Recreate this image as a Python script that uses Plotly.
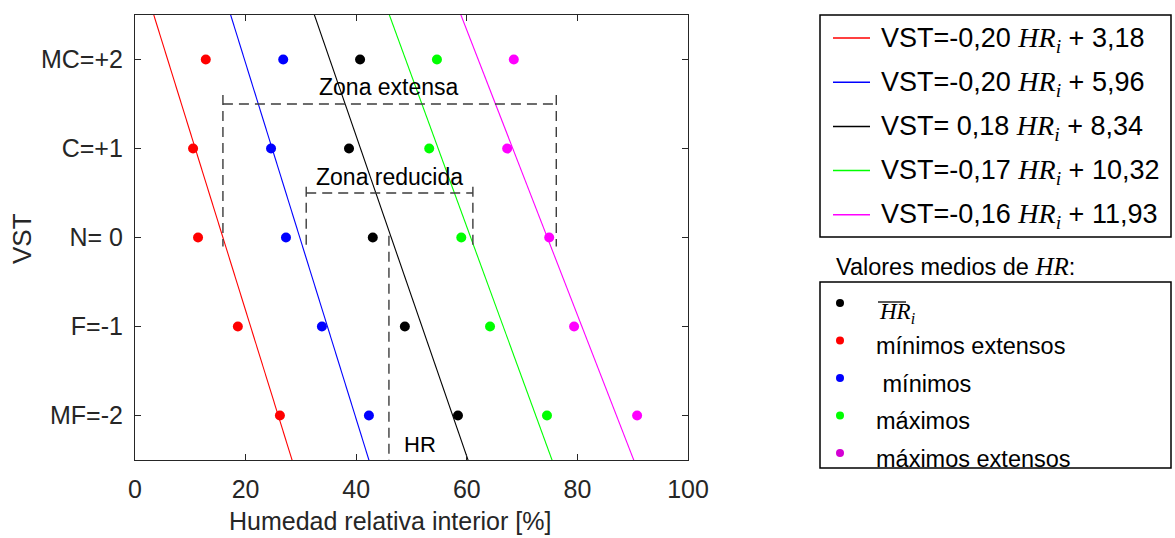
import numpy as np
import plotly.graph_objects as go

# Thermal sensation vote levels (y axis)
vst_levels = [2, 1, 0, -1, -2]
vst_ticktext = ["MC=+2", "C=+1", "N= 0", "F=-1", "MF=-2"]

# Indoor relative humidity [%] for each vote level
hr_min_ext = [12.8, 10.5, 11.4, 18.6, 26.2]
hr_min = [26.8, 24.6, 27.3, 33.8, 42.3]
hr_mean = [40.7, 38.7, 43.0, 48.8, 58.4]
hr_max = [54.6, 53.2, 59.0, 64.2, 74.5]
hr_max_ext = [68.5, 67.3, 74.9, 79.4, 90.8]

# Linear fits VST = slope * HR + intercept
fit_slopes = [-0.20, -0.20, -0.18, -0.17, -0.16]
fit_intercepts = [3.18, 5.96, 8.34, 10.32, 11.93]
fit_prefix = ["VST=-0,20", "VST=-0,20", "VST= 0,18", "VST=-0,17", "VST=-0,16"]
fit_const = ["3,18", "5,96", "8,34", "10,32", "11,93"]

series = [hr_min_ext, hr_min, hr_mean, hr_max, hr_max_ext]
colors = ["#FF0000", "#0000FF", "#000000", "#00FF00", "#FF00FF"]

marker_labels = ["mínimos extensos", " mínimos", "máximos", "máximos extensos"]

W, H = 1175, 538
L, R, T, B = 135, 487, 15, 78
PW, PH = W - L - R, H - T - B

SANS = "Liberation Sans, Arial, sans-serif"
SERIF = "Liberation Serif, DejaVu Serif, serif"
AXC = "#262626"


def px(xp):
    return (xp - L) / PW


def py(yp):
    return (H - B - yp) / PH


fig = go.Figure()

hr_grid = np.array([0.0, 100.0])
for a, b, col in zip(fit_slopes, fit_intercepts, colors):
    fig.add_trace(go.Scatter(x=hr_grid, y=a * hr_grid + b, mode="lines",
                             line=dict(color=col, width=1.1),
                             showlegend=False, hoverinfo="skip"))

for vals, col in zip(series, colors):
    fig.add_trace(go.Scatter(x=vals, y=vst_levels, mode="markers",
                             marker=dict(color=col, size=10, line=dict(width=0)),
                             showlegend=False))

# Comfort zones bounded by the mean values of each series
m = [float(np.mean(s)) for s in series]
dash = dict(color="#3c3c3c", width=1.4, dash="10px,6px")
zones = [(m[0], m[4], 1.5, 1.6), (m[1], m[3], 0.5, 0.57)]
for x0, x1, ylev, ytop in zones:
    fig.add_trace(go.Scatter(x=[x0, x1], y=[ylev, ylev], mode="lines", line=dash,
                             showlegend=False, hoverinfo="skip"))
    for xv in (x0, x1):
        fig.add_trace(go.Scatter(x=[xv, xv], y=[ytop, -0.1], mode="lines", line=dash,
                                 showlegend=False, hoverinfo="skip"))
fig.add_trace(go.Scatter(x=[m[2], m[2]], y=[0.02, -2.5], mode="lines", line=dash,
                         showlegend=False, hoverinfo="skip"))

annotations = [
    dict(x=46, y=1.69, xref="x", yref="y", text="Zona extensa", showarrow=False,
         font=dict(family=SANS, size=23, color="black")),
    dict(x=46, y=0.68, xref="x", yref="y", text="Zona reducida", showarrow=False,
         font=dict(family=SANS, size=23, color="black")),
    dict(x=51.5, y=-2.33, xref="x", yref="y", text="HR", showarrow=False,
         font=dict(family=SANS, size=22, color="black")),
    # axis titles
    dict(x=px(390), y=py(521), xref="paper", yref="paper", xanchor="center",
         yanchor="middle", showarrow=False, text="Humedad relativa interior [%]",
         font=dict(family=SANS, size=25, color=AXC)),
    dict(x=px(22), y=py(239), xref="paper", yref="paper", xanchor="center",
         yanchor="middle", showarrow=False, text="VST", textangle=-90,
         font=dict(family=SANS, size=26, color=AXC)),
]

shapes = []

# Legend of fitted lines
shapes.append(dict(type="rect", xref="paper", yref="paper",
                   x0=px(820), x1=px(1171), y0=py(15), y1=py(237),
                   line=dict(color="black", width=1.5)))
for k, (pre, cst, col) in enumerate(zip(fit_prefix, fit_const, colors)):
    yc = 38 + 44.2 * k
    shapes.append(dict(type="line", xref="paper", yref="paper",
                       x0=px(833), x1=px(870), y0=py(yc), y1=py(yc),
                       line=dict(color=col, width=1.5)))
    txt = (pre + " <span style=\"font-family:" + SERIF + "; font-size:28px\"><i>HR<sub>i</sub></i></span> + " + cst)
    annotations.append(dict(x=px(879), y=py(yc + 1), xref="paper", yref="paper",
                            xanchor="left", yanchor="middle", text=txt, showarrow=False,
                            font=dict(family=SANS, size=27, color="black")))

# Legend of mean values
annotations.append(dict(x=px(834), y=py(266), xref="paper", yref="paper",
                        xanchor="left", yanchor="middle", showarrow=False,
                        text="Valores medios de <span style=\"font-family:" + SERIF +
                             "; font-size:25px\"><i>HR</i></span>:",
                        font=dict(family=SANS, size=23.5, color="black")))
shapes.append(dict(type="rect", xref="paper", yref="paper",
                   x0=px(820), x1=px(1171), y0=py(282), y1=py(468),
                   line=dict(color="black", width=1.5)))

leg_colors = [colors[2], colors[0], colors[1], colors[3], "#D400D4"]
for k, col in enumerate(leg_colors):
    yc = 303 + 37.5 * k
    r = 4
    shapes.append(dict(type="circle", xref="paper", yref="paper",
                       x0=px(840 - r), x1=px(840 + r), y0=py(yc - r), y1=py(yc + r),
                       fillcolor=col, line=dict(width=0)))

annotations.append(dict(x=px(877), y=py(313), xref="paper", yref="paper",
                        xanchor="left", yanchor="middle", showarrow=False,
                        text="<i>HR<sub>i</sub></i>",
                        font=dict(family=SERIF, size=23, color="black")))
shapes.append(dict(type="line", xref="paper", yref="paper",
                   x0=px(878), x1=px(906), y0=py(302), y1=py(302),
                   line=dict(color="black", width=1.3)))
for k, lab in enumerate(marker_labels):
    yc = 346 + 37.5 * k
    annotations.append(dict(x=px(874), y=py(yc), xref="paper", yref="paper",
                            xanchor="left", yanchor="middle", showarrow=False,
                            text=lab, font=dict(family=SANS, size=23.5, color="black")))

axis_common = dict(showline=True, linecolor=AXC, linewidth=1.2, mirror="ticks",
                   ticks="inside", ticklen=6, tickcolor=AXC, tickwidth=1.2,
                   showgrid=False, zeroline=False,
                   tickfont=dict(family=SANS, size=25, color=AXC))

fig.update_layout(
    width=W, height=H,
    margin=dict(l=L, r=R, t=T, b=B),
    paper_bgcolor="white", plot_bgcolor="white",
    xaxis=dict(range=[0, 100], tickvals=[0, 20, 40, 60, 80, 100],
               ticklabelstandoff=7, **axis_common),
    yaxis=dict(range=[-2.5, 2.5], tickvals=vst_levels, ticktext=vst_ticktext,
               ticklabelstandoff=6, **axis_common),
    annotations=annotations,
    shapes=shapes,
    showlegend=False,
)

fig.write_html("out.html")
